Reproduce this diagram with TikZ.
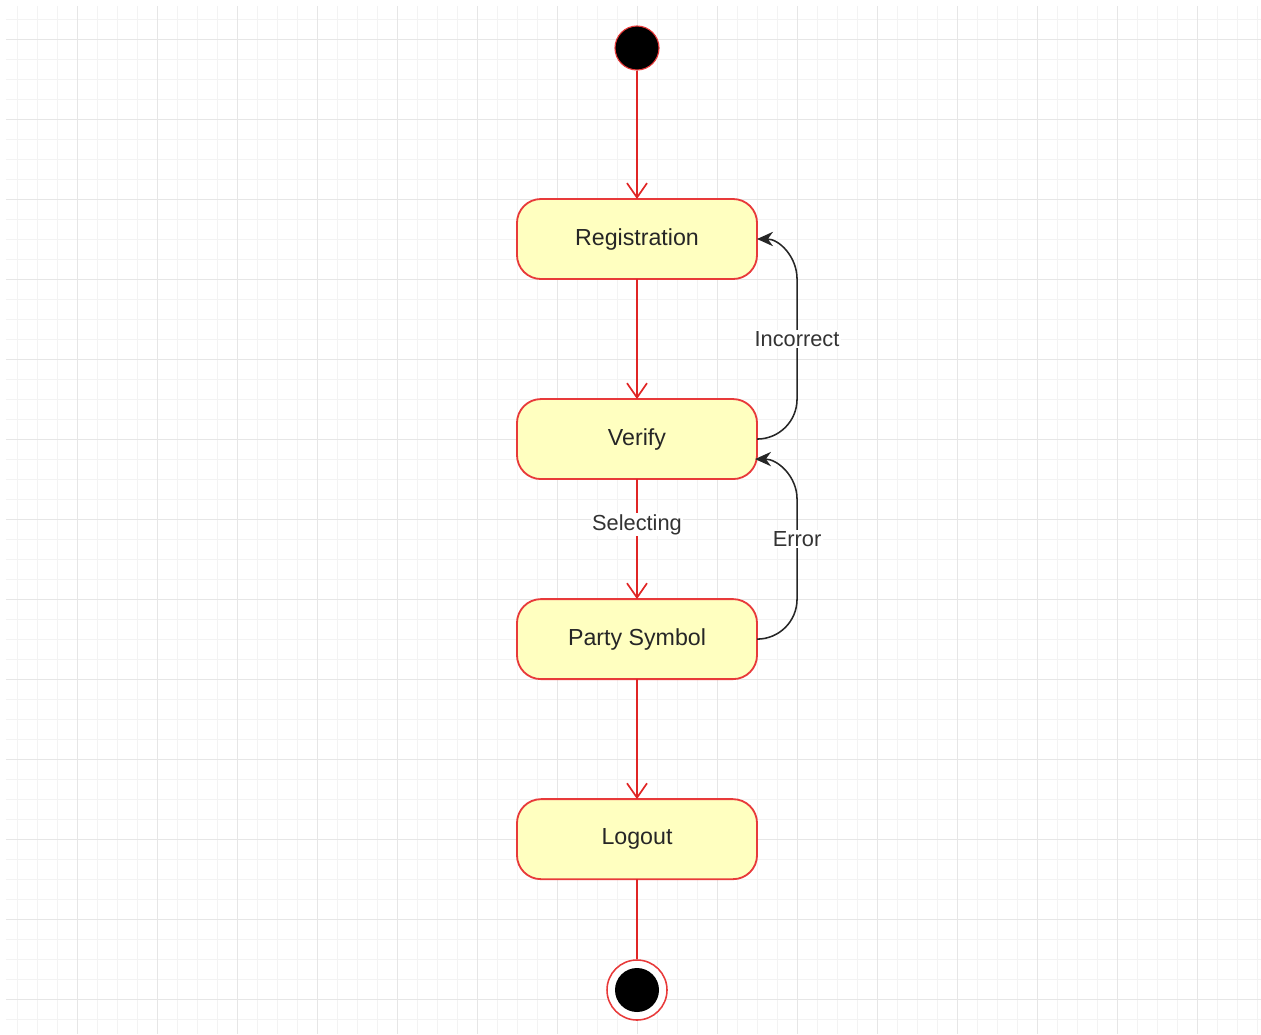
\documentclass[tikz,border=0pt]{standalone}
\usepackage{fontspec}
\setmainfont{Liberation Sans}
\usepackage{tikz}
\usetikzlibrary{positioning}
\usetikzlibrary{arrows.meta}

\definecolor{stateFill}{HTML}{FFFFC0}
\definecolor{stateLine}{HTML}{E83A3A}
\definecolor{flowLine}{HTML}{E02525}
\definecolor{gridMinor}{HTML}{F3F3F3}
\definecolor{gridMajor}{HTML}{E6E6E6}

\tikzset{
    statebox/.style={rectangle, rounded corners=0.6cm, draw=stateLine, fill=stateFill, line width=1.3pt, outer sep=0pt,
        minimum width=6cm, minimum height=2cm, text=black!85, font=\fontsize{16.5}{19}\selectfont},
    flow/.style={draw=flowLine, line width=1.2pt, -{Straight Barb[length=3.6mm,width=5mm,line width=1.2pt]}},
    backflow/.style={draw=black!85, line width=1.1pt, -{Stealth[length=4mm,width=3.6mm]}},
    flowlabel/.style={fill=white, text=black!80, inner sep=1pt, font=\fontsize{15.5}{18}\selectfont}
}

\begin{document}
\begin{tikzpicture}[x=0.025cm,y=-0.025cm]
        \useasboundingbox (0,0) rectangle (1261,1034);

        % background grid
        \foreach \x in {17,37,...,1257} \draw[gridMinor, line width=0.5pt] (\x,6) -- (\x,1034);
        \foreach \y in {19,39,...,1031} \draw[gridMinor, line width=0.5pt] (6,\y) -- (1261,\y);
        \foreach \x in {77,157,...,1257} \draw[gridMajor, line width=0.6pt] (\x,6) -- (\x,1034);
        \foreach \y in {39,119,...,1031} \draw[gridMajor, line width=0.6pt] (6,\y) -- (1261,\y);

        % initial state
        \node (circStart) at (637,48) [circle, draw=stateLine, fill=black, line width=0.8pt, minimum size=1.1cm, inner sep=0pt] {};

        % states
        \node (rectRegistration) at (637,239) [statebox] {Registration};
        \node[below=3cm of rectRegistration] (rectVerify) [statebox] {Verify};
        \node[below=3cm of rectVerify] (rectParty) [statebox] {Party Symbol};
        \node[below=3cm of rectParty] (rectLogout) [statebox] {Logout};

        % final state
        \node (circEnd) at (637,990) [circle, draw=stateLine, fill=white, line width=1.1pt, minimum size=1.5cm, inner sep=0pt] {};
        \node (circEndDot) at (circEnd) [circle, fill=black, minimum size=1.1cm, inner sep=0pt] {};

        \draw[flow] (circStart) -- (rectRegistration);
        \draw[flow] (rectRegistration) -- (rectVerify);
        \draw[flow] (rectVerify) -- node[flowlabel, pos=0.38] (lblSelecting) {Selecting} (rectParty);
        \draw[flow] (rectParty) -- (rectLogout);
        \draw[draw=flowLine, line width=1.2pt] (rectLogout) -- (circEnd);

        % back edges
        \draw[backflow] (rectVerify.east) to[out=0,in=-90] ([xshift=1cm,yshift=1cm]rectVerify.east)
            -- node[flowlabel, pos=0.5] (lblIncorrect) {Incorrect} ([xshift=1cm,yshift=-1cm]rectRegistration.east)
            to[out=90,in=0] (rectRegistration.east);
        \draw[backflow] (rectParty.east) to[out=0,in=-90] ([xshift=1cm,yshift=1cm]rectParty.east)
            -- node[flowlabel, pos=0.6] (lblError) {Error} ([xshift=1cm,yshift=-1.5cm]rectVerify.east)
            to[out=90,in=0] ([xshift=-0.5mm,yshift=-0.5cm]rectVerify.east);

\end{tikzpicture}
\end{document}
